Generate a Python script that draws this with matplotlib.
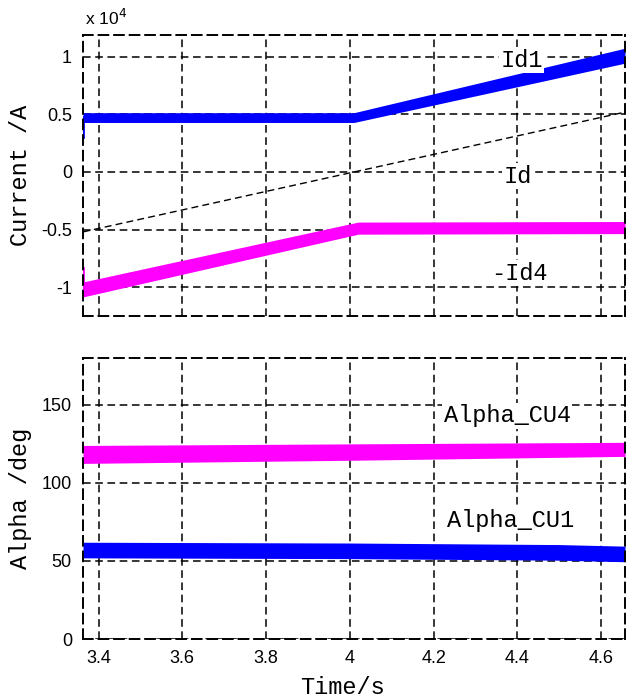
import numpy as np
import matplotlib
matplotlib.use("Agg")
import matplotlib.pyplot as plt

# values

# upper panel: currents (A)
t_id1 = [3.363, 4.01, 4.657]
id1_lo = [4300, 4300, 9450]
id1_hi = [5150, 5150, 10750]
t_id1_start = [3.363, 3.363]
id1_start = [3000, 4800]

t_id4 = [3.363, 4.02, 4.657]
id4_lo = [-10850, -5400, -5350]
id4_hi = [-9550, -4350, -4300]
t_id4_start = [3.363, 3.363]
id4_start = [-8300, -10500]

t_id = [3.363, 4.657]
id_ref = [-5200, 5200]

# lower panel: firing angles (deg)
t_cu1 = [3.363, 4.0, 4.5, 4.657]
cu1_lo = [52, 51.5, 50.5, 49.5]
cu1_hi = [62, 61.5, 60.5, 59.5]

t_cu4 = [3.363, 4.0, 4.657]
cu4_lo = [112.5, 114.5, 117]
cu4_hi = [124, 125, 126]

xticks = [3.4, 3.6, 3.8, 4.0, 4.2, 4.4, 4.6]
xticklabels = ['3.4', '3.6', '3.8', '4', '4.2', '4.4', '4.6']
yticks_top = [-10000, -5000, 0, 5000, 10000]
yticklabels_top = ['-1', '-0.5', '0', '0.5', '1']
yticks_bot = [0, 50, 100, 150]
yticklabels_bot = ['0', '50', '100', '150']

MAGENTA = '#ff00ff'
BLUE = '#0000ff'
txtfont = 'Liberation Mono'
tickfont = 'Liberation Sans'
TICKSIZE = 13
TXTSIZE = 17

fig = plt.figure(figsize=(6.27, 6.99), dpi=100)
ax1 = fig.add_axes([0.1324, 0.548, 0.8644, 0.402])
ax2 = fig.add_axes([0.1324, 0.0858, 0.8644, 0.402])


def style(ax):
    ax.grid(True, color='black', linestyle=(0, (5, 3)), linewidth=1.1)
    ax.set_axisbelow(True)
    for s in ax.spines.values():
        s.set_linestyle((0, (5, 3)))
        s.set_linewidth(1.4)
    ax.tick_params(direction='in', length=0, pad=8)
    ax.set_xlim(3.363, 4.657)


# top
ax1.fill_between(t_id1, id1_lo, id1_hi, color=BLUE, lw=0)
ax1.plot(t_id1_start, id1_start, color=BLUE, lw=2)
ax1.fill_between(t_id4, id4_lo, id4_hi, color=MAGENTA, lw=0)
ax1.plot(t_id4_start, id4_start, color=MAGENTA, lw=2)
ax1.plot(t_id, id_ref, color='black', lw=1.0, linestyle=(0, (5, 3)))
ax1.set_ylim(-12500, 11900)
ax1.set_xticks(xticks)
ax1.set_xticklabels([])
ax1.set_yticks(yticks_top)
ax1.set_yticklabels(yticklabels_top, fontfamily=tickfont, fontsize=TICKSIZE)
style(ax1)
ax1.set_ylabel('Current /A', fontfamily=txtfont, fontsize=TXTSIZE, va='center')
ax1.yaxis.set_label_coords(-0.116, 0.5)

bb = dict(facecolor='white', edgecolor='none', pad=1)
ax1.text(4.41, 9700, 'Id1', ha='center', va='center', fontfamily=txtfont, fontsize=TXTSIZE, bbox=bb)
ax1.text(4.40, -350, 'Id', ha='center', va='center', fontfamily=txtfont, fontsize=TXTSIZE, bbox=bb)
ax1.text(4.405, -8800, '-Id4', ha='center', va='center', fontfamily=txtfont, fontsize=TXTSIZE, bbox=bb)
fig.text(0.135, 0.974, r'x 10$^4$', fontfamily=tickfont, fontsize=12.5, ha='left', va='center')

# bottom
ax2.fill_between(t_cu4, cu4_lo, cu4_hi, color=MAGENTA, lw=0)
ax2.fill_between(t_cu1, cu1_lo, cu1_hi, color=BLUE, lw=0)
ax2.set_ylim(0, 180)
ax2.set_xticks(xticks)
ax2.set_xticklabels(xticklabels, fontfamily=tickfont, fontsize=TICKSIZE)
ax2.set_yticks(yticks_bot)
ax2.set_yticklabels(yticklabels_bot, fontfamily=tickfont, fontsize=TICKSIZE)
style(ax2)
ax2.set_ylabel('Alpha /deg', fontfamily=txtfont, fontsize=TXTSIZE, va='center')
ax2.yaxis.set_label_coords(-0.116, 0.5)
ax2.set_xlabel('Time/s', fontfamily=txtfont, fontsize=TXTSIZE, va='baseline')
ax2.xaxis.set_label_coords(0.478, -0.197)
ax2.text(4.376, 143, 'Alpha_CU4', ha='center', va='center', fontfamily=txtfont, fontsize=TXTSIZE, bbox=bb)
ax2.text(4.383, 76, 'Alpha_CU1', ha='center', va='center', fontfamily=txtfont, fontsize=TXTSIZE, bbox=bb)

fig.savefig('out.png', dpi=100)
